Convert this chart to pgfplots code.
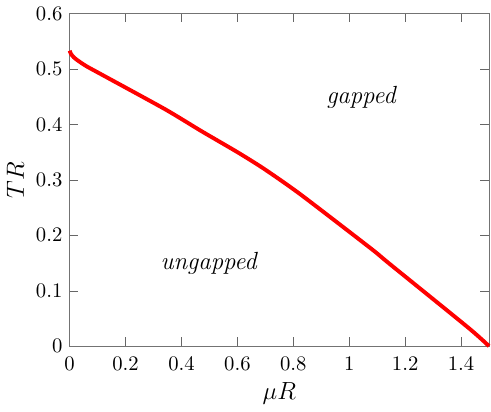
\documentclass[border=0pt]{standalone}
\usepackage{pgfplots}
\pgfplotsset{compat=1.18}
\begin{document}
\begin{tikzpicture}
\begin{axis}[
    width=203pt, height=161pt,
    scale only axis,
    xmin=0, xmax=1.5,
    ymin=0, ymax=0.6,
    xtick={0,0.2,...,1.4},
    ytick={0,0.1,...,0.6},
    tick align=inside,
    axis line style={black!55},
    tick style={black!60},
    xticklabel style={yshift=-2pt},
    xlabel={$\mu R$},
    ylabel={$T R$},
    label style={font=\large},
    xlabel style={yshift=1pt},
    ylabel style={yshift=-1pt},
    clip=false,
]
\addplot[red, line width=1.9pt, smooth, tension=0.4] coordinates {
    (0,0.533) (0.005,0.527) (0.015,0.521) (0.03,0.515) (0.06,0.505)
    (0.118,0.489) (0.341,0.4275) (0.471,0.388) (0.60,0.350) (0.695,0.320)
    (0.825,0.274) (1.078,0.176) (1.143,0.149) (1.4256,0.0334) (1.5,0)
};
\node at (axis cs:1.042,0.449) {\large\itshape gapped};
\node at (axis cs:0.497,0.149) {\large\itshape ungapped};
\end{axis}
\end{tikzpicture}
\end{document}
